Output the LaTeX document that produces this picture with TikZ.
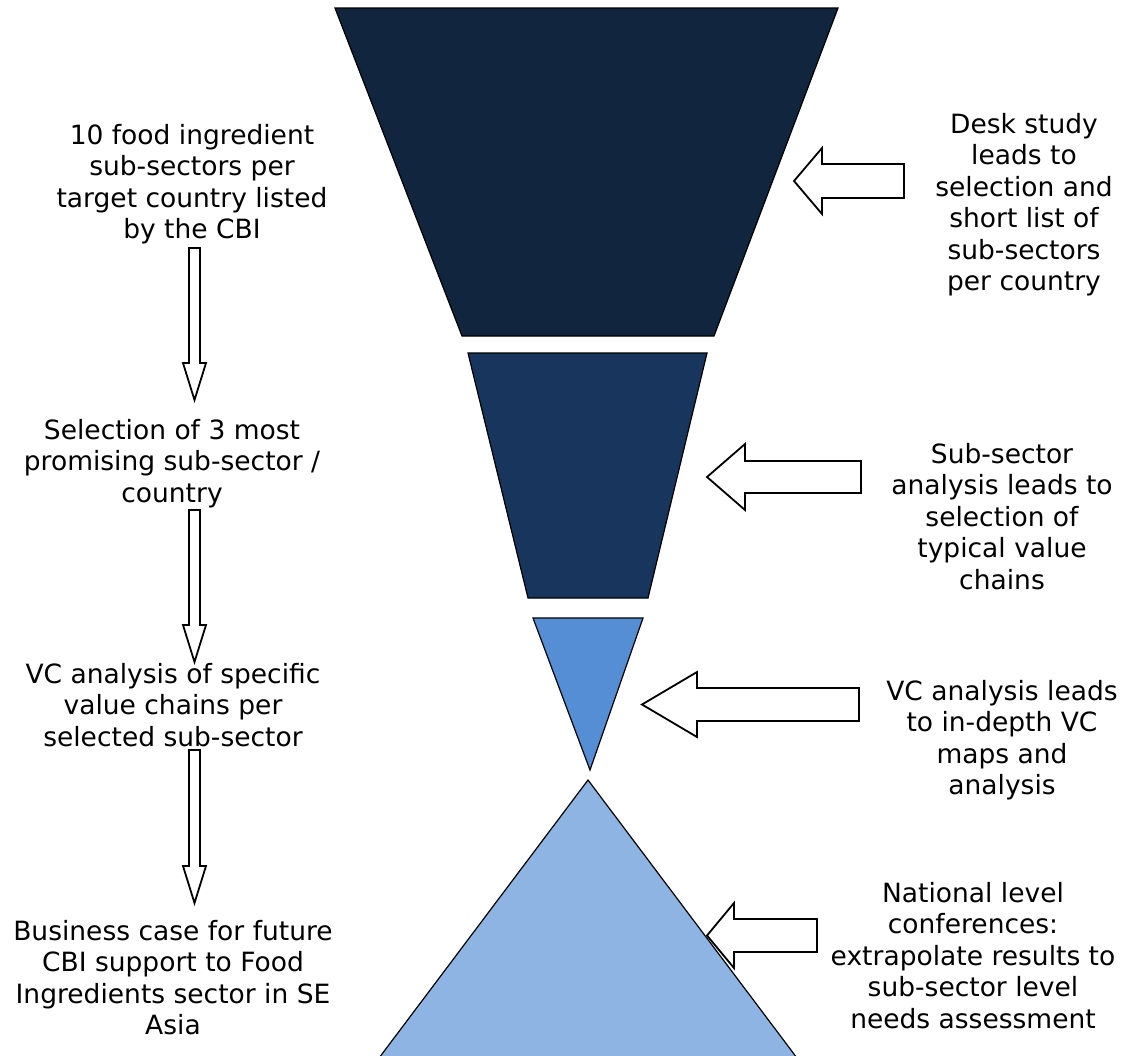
\documentclass[tikz,border=0pt]{standalone}
\usepackage{fontspec}
\setmainfont{DejaVu Sans}
\usetikzlibrary{calc}

\definecolor{stageA}{HTML}{11253F}
\definecolor{stageB}{HTML}{18365D}
\definecolor{stageC}{HTML}{558ED5}
\definecolor{stageD}{HTML}{8EB4E3}

\tikzset{
  stage/.style={draw=black, line width=1.2pt, line join=miter},
  steptext/.style={font=\fontsize{26.5}{31.5}\selectfont, align=center,
                   inner sep=0pt, anchor=north, text=black},
  blockarrow/.style={draw=black, fill=white, line width=1.8pt, line join=miter}
}

% hollow block arrow pointing down, from #1 (top of shaft) to #2 (tip)
\newcommand\downblock[2]{%
  \draw[blockarrow] ($(#1)+(-5.5,0)$) -- ($(#2)+(-5.5,-37)$) -- ($(#2)+(-11.5,-37)$)
    -- (#2) -- ($(#2)+(11.5,-37)$) -- ($(#2)+(5.5,-37)$) -- ($(#1)+(5.5,0)$) -- cycle;}

% hollow block arrow pointing left: #1 tip, #2 tail, #3 head length,
% #4 half height of the head, #5 half height of the shaft
\newcommand\leftblock[5]{%
  \draw[blockarrow] (#1) -- ($(#1)+(#3,-#4)$) -- ($(#1)+(#3,-#5)$) -- ($(#2)+(0,-#5)$)
    -- ($(#2)+(0,#5)$) -- ($(#1)+(#3,#5)$) -- ($(#1)+(#3,#4)$) -- cycle;}

\begin{document}
\begin{tikzpicture}[x=1pt, y=-1pt]
  \useasboundingbox (0,0) rectangle (1134,1055);

  % funnel stages
  \fill[stageA, stage] (335,8) -- (838,8) -- (714,336) -- (462,336) -- cycle;
  \fill[stageB, stage] (468,353) -- (707,353) -- (648,598) -- (528,598) -- cycle;
  \fill[stageC, stage] (533,618) -- (643,618) -- (590,770) -- cycle;
  \fill[stageD, stage] (588,780) -- (800,1062) -- (376,1062) -- cycle;

  % left column
  \node[steptext] (l1) at (192,124) {10 food ingredient\\sub-sectors per\\target country listed\\by the CBI};
  \node[steptext] (l2) at (172,419) {Selection of 3 most\\promising sub-sector /\\country};
  \node[steptext] (l3) at (173,663) {VC analysis of specific\\value chains per\\selected sub-sector};
  \node[steptext] (l4) at (173,920) {Business case for future\\CBI support to Food\\Ingredients sector in SE\\Asia};

  % right column
  \node[steptext] (r1) at (1024,113) {Desk study\\leads to\\selection and\\short list of\\sub-sectors\\per country};
  \node[steptext] (r2) at (1002,443) {Sub-sector\\analysis leads to\\selection of\\typical value\\chains};
  \node[steptext] (r3) at (1002,680) {VC analysis leads\\to in-depth VC\\maps and\\analysis};
  \node[steptext] (r4) at (973,882) {National level\\conferences:\\extrapolate results to\\sub-sector level\\needs assessment};

  % down arrows between the left steps
  \coordinate (d1s) at (194.5,248); \coordinate (d1t) at (194.5,400);
  \coordinate (d2s) at (194.5,510); \coordinate (d2t) at (194.5,662);
  \coordinate (d3s) at (194.5,750); \coordinate (d3t) at (194.5,903);
  \downblock{d1s}{d1t}
  \downblock{d2s}{d2t}
  \downblock{d3s}{d3t}

  % arrows from the right texts towards the funnel
  \coordinate (a1t) at (794,181);   \coordinate (a1e) at (904,181);
  \coordinate (a2t) at (707,477);   \coordinate (a2e) at (861,477);
  \coordinate (a3t) at (642,704.5); \coordinate (a3e) at (859,704.5);
  \coordinate (a4t) at (707,935.5); \coordinate (a4e) at (817,935.5);
  \leftblock{a1t}{a1e}{28}{33}{17}
  \leftblock{a2t}{a2e}{38}{33}{16}
  \leftblock{a3t}{a3e}{55}{32.5}{16.5}
  \leftblock{a4t}{a4e}{27}{32.5}{16.5}
\end{tikzpicture}
\end{document}
